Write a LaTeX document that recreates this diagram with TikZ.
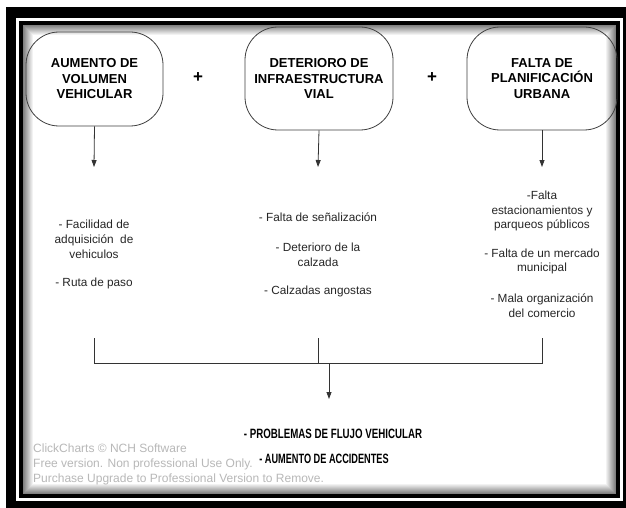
\documentclass[tikz,border=0pt]{standalone}
\usepackage{fontspec}
\setmainfont{Liberation Sans}
\usepackage{graphicx}
\usetikzlibrary{arrows.meta}
\tikzset{
  titlebox/.style={draw=black!75, line width=0.8pt, rounded corners=33pt,
    font=\fontsize{13}{15.5}\selectfont\bfseries, align=center, inner sep=0pt},
  flow/.style={draw=black!80, line width=0.8pt},
  arr/.style={flow, -{Triangle[width=5pt,length=7pt]}},
  item/.style={font=\fontsize{11.8}{14.8}\selectfont, align=center, inner sep=0pt, text=black!85},
  result/.style={font=\fontsize{13.5}{15}\selectfont\bfseries, inner sep=0pt},
  wmark/.style={font=\fontsize{12}{14}\selectfont, text=black!28, anchor=west, inner sep=0pt},
  plus/.style={font=\fontsize{17}{17}\selectfont\bfseries, inner sep=0pt}
}
\begin{document}
\begin{tikzpicture}[x=1pt,y=-1pt]
\useasboundingbox (0,0) rectangle (626,508);
% frame
\fill[black] (6,7) rectangle (626,508);
\fill[white] (16,18) rectangle (623,501);
\fill[black] (19,21) rectangle (620,498);
\foreach \i in {0,...,10}{
  \pgfmathsetmacro\c{50-5*\i}
  \fill[black!\c] (23+\i,25+\i) rectangle (616-\i,494-\i);
}
\fill[white] (34,36) rectangle (605,483);
% title nodes
\node[titlebox, minimum width=137pt, minimum height=94pt] (n1) at (94.5,79) {AUMENTO DE\\VOLUMEN\\VEHICULAR};
\node[titlebox, minimum width=148pt, minimum height=103pt] (n2) at (319,78.5) {DETERIORO DE\\INFRAESTRUCTURA\\VIAL};
\node[titlebox, minimum width=150pt, minimum height=103pt] (n3) at (542,78.5) {FALTA DE\\PLANIFICACIÓN\\URBANA};
\node[plus] (p1) at (198,78) {+};
\node[plus] (p2) at (432,78) {+};
% arrow ends
\coordinate (a1) at (94,167);
\coordinate (a2) at (318,167);
\coordinate (a3) at (542,167);
\draw[arr] (n1.south) -- (a1);
\draw[arr] (n2.south) -- (a2);
\draw[arr] (n3.south) -- (a3);
% items
\node[item] (c1a) at (94,239) {- Facilidad de\\adquisición~ de\\vehiculos};
\node[item] (c1b) at (94,283) {- Ruta de paso};
\node[item] (c2a) at (318,217) {- Falta de señalización};
\node[item] (c2b) at (318,254.5) {- Deterioro de la\\calzada};
\node[item] (c2c) at (318,291) {- Calzadas angostas};
\node[item] (c3a) at (542,211) {-Falta\\estacionamientos y\\parqueos públicos};
\node[item] (c3b) at (542,261.5) {- Falta de un mercado\\municipal};
\node[item] (c3c) at (542,305.5) {- Mala organización\\del comercio};
% bracket
\coordinate (b1t) at (94,338);
\coordinate (b2t) at (318,338);
\coordinate (b3t) at (542,338);
\coordinate (b1) at (94,363);
\coordinate (b2) at (318,363);
\coordinate (b3) at (542,363);
\coordinate (m) at (329,363);
\coordinate (mt) at (329,399);
\draw[flow] (b1t) -- (b1) -- (b3) -- (b3t);
\draw[flow] (b2t) -- (b2);
\draw[arr] (m) -- (mt);
% results
\node[result] (r1) at (333,434) {\scalebox{0.72}[1]{- PROBLEMAS DE FLUJO VEHICULAR}};
\node[result] (r2) at (324,459) {\scalebox{0.68}[1]{- AUMENTO DE ACCIDENTES}};
% watermark
\node[wmark] (w1) at (33,448) {ClickCharts © NCH Software};
\node[wmark] (w2) at (33,464) {Free version. Non professional Use Only.};
\node[wmark] (w3) at (33,479) {Purchase Upgrade to Professional Version to Remove.};
\end{tikzpicture}
\end{document}
